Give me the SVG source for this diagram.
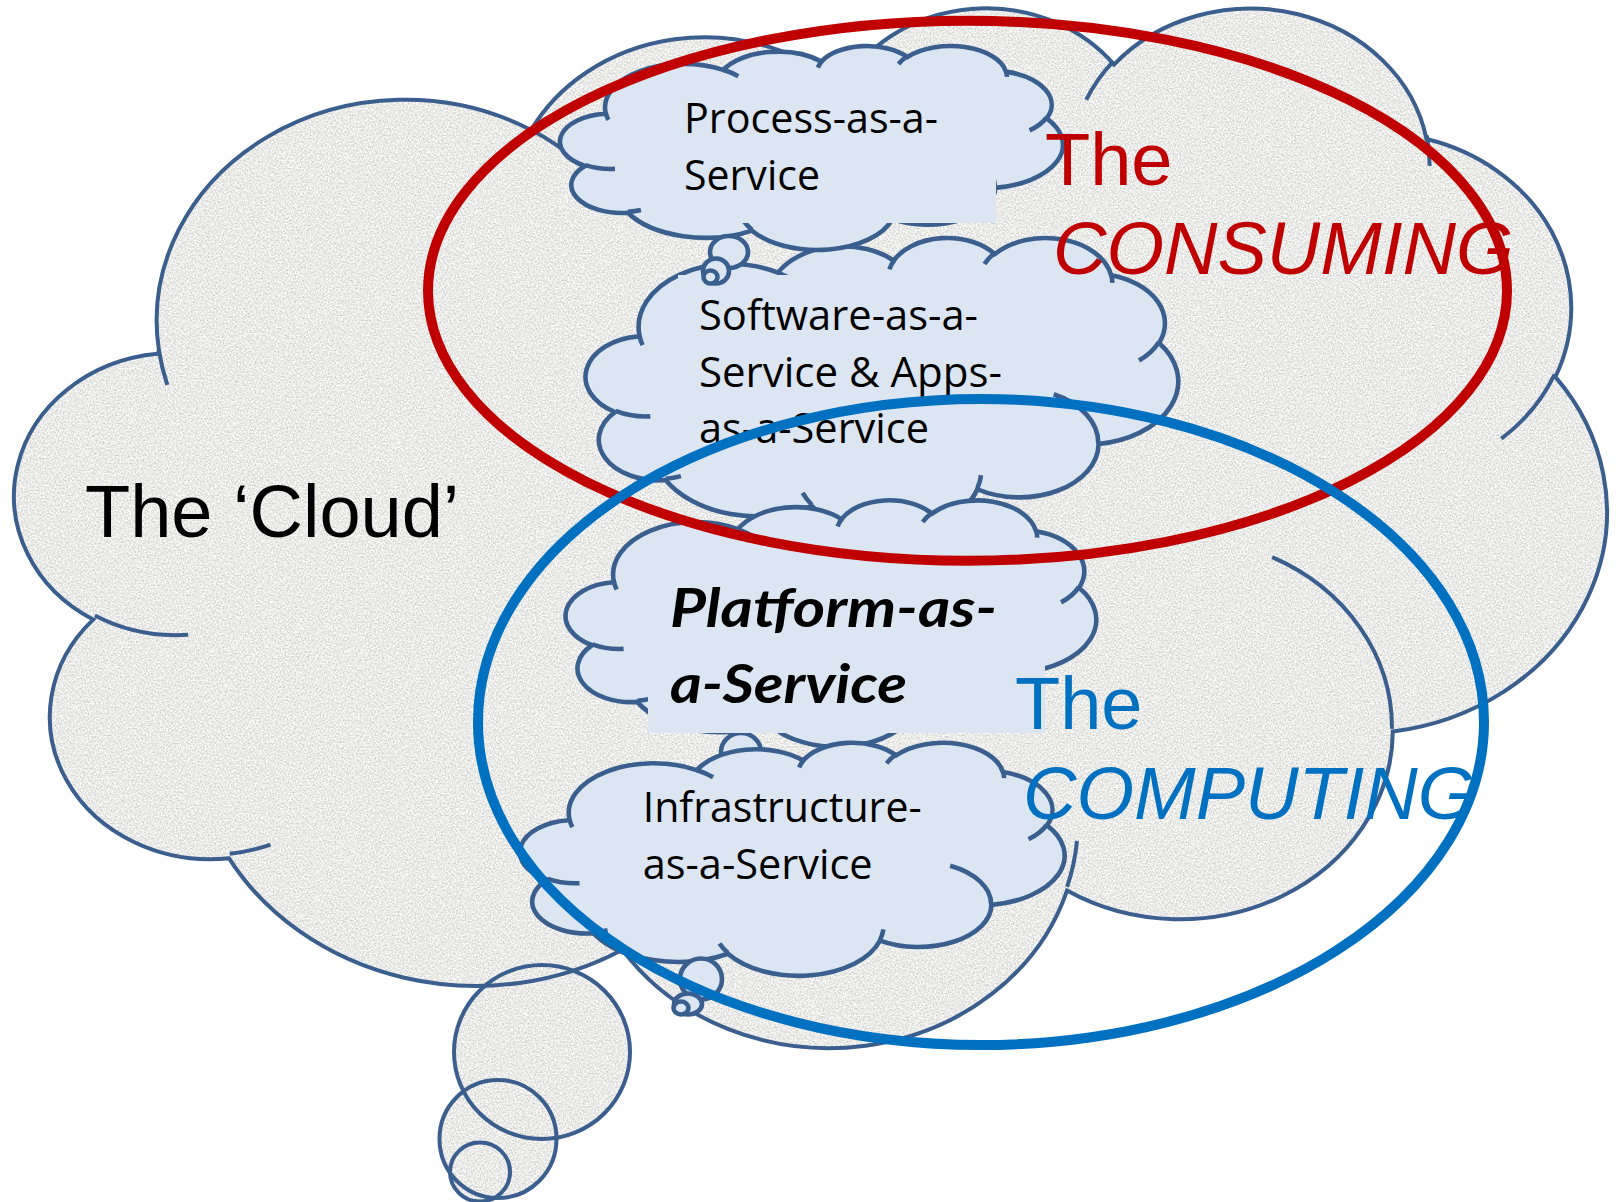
<svg xmlns="http://www.w3.org/2000/svg" width="1616" height="1202" viewBox="0 0 1616 1202">
<defs>
<style>
.ol{fill:none;stroke:#3A5F8E;stroke-width:4}
.sc{fill:#DCE6F2;stroke:#3A5F8E;stroke-width:4.6}
.sd{fill:none;stroke:#3A5F8E;stroke-width:4.6}
.box{fill:#DCE6F2}
.cal{font-family:"Open Sans",Lato,"Noto Sans",sans-serif;font-size:42px;fill:#000}
.pb{font-family:Lato,"Open Sans","Noto Sans",sans-serif;font-size:54px;font-weight:bold;font-style:italic;fill:#000}
.ar{font-family:"Liberation Sans",Arial,sans-serif;font-size:74px}
.it{font-style:italic}
</style>
<path id="cloudShape" vector-effect="non-scaling-stroke" d="M3900 14370A6753 9190 0 0 1 14005 5202A5333 7267 0 0 1 22456 3433A4365 5945 0 0 1 29833 2481A4857 6595 0 0 1 38318 5576A5333 7273 0 0 1 41818 15460A6775 9220 0 0 1 37404 30203A5785 7867 0 0 1 28556 36813A6752 9215 0 0 1 16481 39266A7720 10543 0 0 1 5804 35470A4360 5918 0 0 1 2113 25548A4345 5945 0 0 1 3863 14504Z"/>
<path id="cloudDetail" vector-effect="non-scaling-stroke" fill="none" d="M4693 26177A4345 5945 0 0 1 2160 25380M6928 34899A4360 5918 0 0 1 5820 35281M16478 39090A6752 9215 0 0 1 15809 37349M28827 34751A6752 9215 0 0 1 28560 36660M34129 22954A5785 7867 0 0 1 37380 30090M41798 15354A5333 7273 0 0 1 40350 18030M38324 5426A4857 6595 0 0 1 38401 6690M29078 3952A4857 6595 0 0 1 29820 2340M22141 4720A4365 5945 0 0 1 22500 3331M14000 5192A6753 9190 0 0 1 15300 6540M4127 15789A6753 9190 0 0 1 3900 14371"/>
<clipPath id="bigClip">
<use href="#cloudShape" transform="matrix(0.036827 0 0 0.02406 15.34 4.9)"/>
<ellipse cx="542" cy="1052" rx="88" ry="87"/>
<ellipse cx="498" cy="1139" rx="58.5" ry="59"/>
<ellipse cx="480" cy="1172" rx="30" ry="29.5"/>
</clipPath>
<filter id="granite" filterUnits="userSpaceOnUse" x="0" y="0" width="1616" height="1202" color-interpolation-filters="sRGB">
<feTurbulence type="fractalNoise" baseFrequency="0.6" numOctaves="3" seed="7" result="n"/>
<feColorMatrix in="n" type="matrix" values="0.36 0 0 0 0.74  0.36 0 0 0 0.74  0.36 0 0 0 0.735  0 0 0 0 1"/>
</filter>
</defs>

<g id="the-cloud">
<rect x="0" y="0" width="1616" height="1202" filter="url(#granite)" clip-path="url(#bigClip)"/>
<use href="#cloudShape" class="ol" transform="matrix(0.036827 0 0 0.02406 15.34 4.9)"/>
<use href="#cloudDetail" class="ol" transform="matrix(0.036827 0 0 0.02406 15.34 4.9)"/>
<ellipse class="ol" cx="542" cy="1052" rx="88" ry="87"/>
<ellipse class="ol" cx="498" cy="1139" rx="58.5" ry="59"/>
<ellipse class="ol" cx="480" cy="1172" rx="30" ry="29.5"/>
<text class="ar" x="85" y="537" fill="#000">The ‘Cloud’</text>
</g>

<g id="saas">
<use href="#cloudShape" class="sc" transform="matrix(0.013704 0 0 0.006852 586 237)"/>
<use href="#cloudDetail" class="sd" transform="matrix(0.013704 0 0 0.006852 586 237)"/>
<rect class="box" x="678" y="275" width="352" height="192"/>
<text class="cal" x="699" y="330" textLength="279" lengthAdjust="spacingAndGlyphs">Software-as-a-</text>
<text class="cal" x="699" y="386.7" textLength="303" lengthAdjust="spacingAndGlyphs">Service &amp; Apps-</text>
<text class="cal" x="699" y="443.3" textLength="230" lengthAdjust="spacingAndGlyphs">as-a-Service</text>
</g>

<g id="process">
<use href="#cloudShape" class="sc" transform="matrix(0.011628 0 0 0.0047204 560.4 45.3)"/>
<use href="#cloudDetail" class="sd" transform="matrix(0.011628 0 0 0.0047204 560.4 45.3)"/>
<ellipse class="sc" cx="729" cy="252" rx="19" ry="16"/>
<ellipse class="sc" cx="716" cy="271" rx="13" ry="12.5"/>
<ellipse class="sc" cx="710.5" cy="277" rx="7" ry="6.5"/>
<rect class="box" x="668" y="80" width="328" height="143"/>
<text class="cal" x="684" y="133.3" textLength="254" lengthAdjust="spacingAndGlyphs">Process-as-a-</text>
<text class="cal" x="684" y="190" textLength="136" lengthAdjust="spacingAndGlyphs">Service</text>
</g>

<g id="platform">
<use href="#cloudShape" class="sc" transform="matrix(0.012269 0 0 0.005706 566 499.5)"/>
<use href="#cloudDetail" class="sd" transform="matrix(0.012269 0 0 0.005706 566 499.5)"/>
<ellipse class="sc" cx="741" cy="752" rx="20" ry="19"/>
<rect class="box" x="648" y="545" width="397" height="188"/>
<text class="pb" x="670" y="626.7" textLength="327" lengthAdjust="spacingAndGlyphs">Platform-as-</text>
<text class="pb" x="670" y="702.7" textLength="237" lengthAdjust="spacingAndGlyphs">a-Service</text>
</g>

<g id="iaas">
<use href="#cloudShape" class="sc" transform="matrix(0.012593 0 0 0.0053935 520.4 742)"/>
<use href="#cloudDetail" class="sd" transform="matrix(0.012593 0 0 0.0053935 520.4 742)"/>
<ellipse class="sc" cx="701" cy="979" rx="21" ry="20.5"/>
<ellipse class="sc" cx="688" cy="1004" rx="14" ry="10.5"/>
<ellipse class="sc" cx="681" cy="1008" rx="7.5" ry="6.5"/>
<text class="cal" x="642.7" y="821.7" textLength="279" lengthAdjust="spacingAndGlyphs">Infrastructure-</text>
<text class="cal" x="642.7" y="879.3" textLength="230" lengthAdjust="spacingAndGlyphs">as-a-Service</text>
</g>

<g id="connectors">
<ellipse id="consuming-ring" cx="967.5" cy="290.75" rx="539.5" ry="270" fill="none" stroke="#C00000" stroke-width="10"/>
<ellipse id="computing-ring" cx="981" cy="722" rx="503" ry="323" fill="none" stroke="#0070C0" stroke-width="10"/>
</g>

<g id="consuming-label" fill="#C00000">
<text class="ar" x="1045" y="185">The</text>
<text class="ar it" x="1053" y="274">CONSUMING</text>
</g>
<g id="computing-label" fill="#0070C0">
<text class="ar" x="1015" y="729">The</text>
<text class="ar it" x="1023" y="819">COMPUTING</text>
</g>
</svg>
